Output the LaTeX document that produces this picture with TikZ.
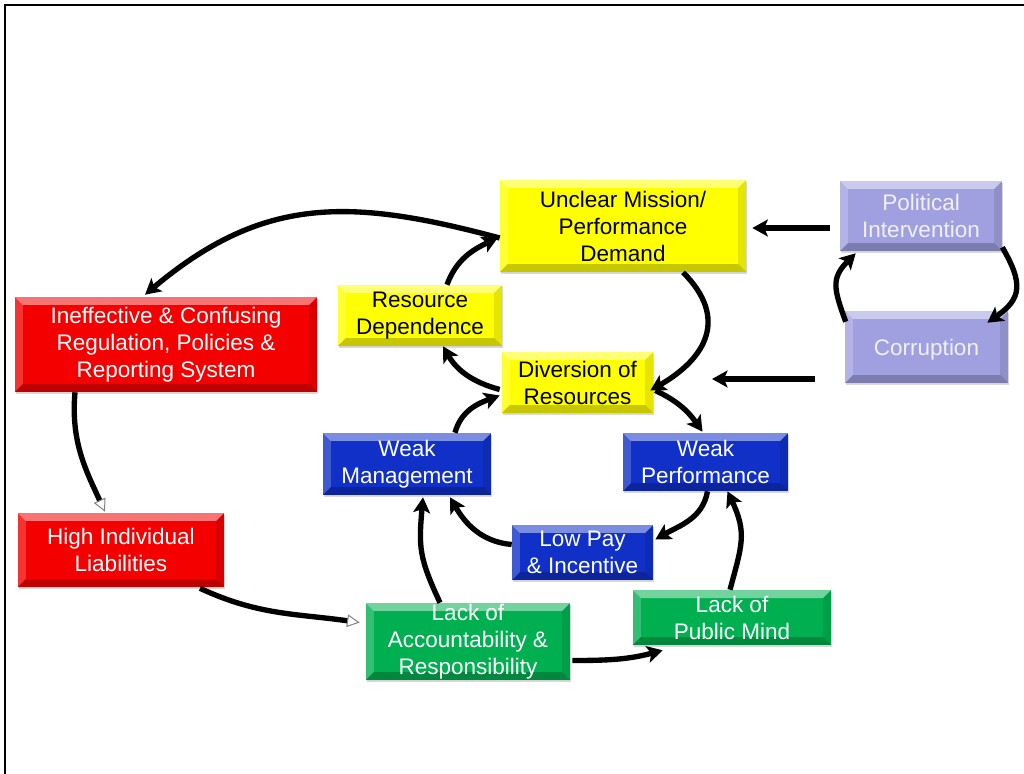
\documentclass[tikz,border=0pt]{standalone}
\usepackage{xcolor}
\usepackage{tikz}
\usepackage{fontspec}
\setmainfont{Liberation Sans}
\usetikzlibrary{arrows.meta,calc,shadows}
\definecolor{Y0}{HTML}{FFFF00}
\definecolor{R0}{HTML}{F40000}
\definecolor{B0}{HTML}{1030C8}
\definecolor{G0}{HTML}{00B050}
\definecolor{V0}{HTML}{A0A0E0}
\definecolor{V1}{HTML}{F0F0FA}
\tikzset{%
  bevel/.style={path picture={%
    \fill[white,opacity=0.45] (path picture bounding box.north west) -- (path picture bounding box.north east) -- ([shift={(-0.2cm,-0.2cm)}]path picture bounding box.north east) -- ([shift={(0.2cm,-0.2cm)}]path picture bounding box.north west) -- cycle;%
    \fill[white,opacity=0.2] (path picture bounding box.north west) -- (path picture bounding box.south west) -- ([shift={(0.2cm,0.2cm)}]path picture bounding box.south west) -- ([shift={(0.2cm,-0.2cm)}]path picture bounding box.north west) -- cycle;%
    \fill[black,opacity=0.1] (path picture bounding box.north east) -- (path picture bounding box.south east) -- ([shift={(-0.2cm,0.2cm)}]path picture bounding box.south east) -- ([shift={(-0.2cm,-0.2cm)}]path picture bounding box.north east) -- cycle;%
    \fill[black,opacity=0.22] (path picture bounding box.south west) -- (path picture bounding box.south east) -- ([shift={(-0.2cm,0.2cm)}]path picture bounding box.south east) -- ([shift={(0.2cm,0.2cm)}]path picture bounding box.south west) -- cycle;%
  }},%
  box/.style={fill=#1, bevel, drop shadow={opacity=0.3,shadow xshift=0.5pt,shadow yshift=-1.5pt}, inner sep=0pt, align=center, font=\fontsize{16}{19.2}\selectfont},%
  flow/.style={line width=3.8pt, -{Stealth[length=11pt,width=12pt,inset=2.5pt]}},%
  openflow/.style={line width=3.8pt, -{Triangle[open,length=9pt,width=9pt,line width=0.7pt,color=gray]}},%
}
\begin{document}
\begin{tikzpicture}[x=0.025cm,y=-0.025cm]%
\useasboundingbox (0,0) rectangle (1024,774);%
\draw[line width=1.8pt] (5,774) -- (5,5) -- (1024,5);%
\node[box=Y0, minimum width=6.15cm, minimum height=2.3cm] (unclear) at (623,226) {Unclear Mission/\\Performance\\Demand};%
\node[box=V0, text=V1, minimum width=4.05cm, minimum height=1.75cm] (political) at (921,216) {Political\\Intervention};%
\node[box=V0, text=V1, minimum width=4.075cm, minimum height=1.8cm, text depth=-0.2cm] (corruption) at (926.5,347) {Corruption};%
\node[box=Y0, minimum width=4.1cm, minimum height=1.525cm] (resdep) at (420,315.5) {Resource\\Dependence};%
\node[box=Y0, minimum width=3.775cm, minimum height=1.525cm] (diversion) at (577.5,382.5) {Diversion of\\Resources};%
\node[box=R0, text=white, minimum width=7.55cm, minimum height=2.375cm] (ineff) at (166,344.5) {Ineffective \& Confusing\\Regulation, Policies \&\\Reporting System};%
\node[box=R0, text=white, minimum width=5.15cm, minimum height=1.85cm] (liab) at (121,550) {High Individual\\Liabilities};%
\node[box=B0, text=white, minimum width=4.2cm, minimum height=1.55cm] (weakmgmt) at (407,464) {Weak\\Management};%
\node[box=B0, text=white, minimum width=4.125cm, minimum height=1.45cm] (weakperf) at (705.5,462) {Weak\\Performance};%
\node[box=B0, text=white, minimum width=3.525cm, minimum height=1.375cm] (lowpay) at (582.5,552.5) {Low Pay\\\& Incentive};%
\node[box=G0, text=white, minimum width=5.1cm, minimum height=1.925cm] (account) at (468,641.5) {Lack of\\Accountability \&\\Responsibility};%
\node[box=G0, text=white, minimum width=4.95cm, minimum height=1.375cm] (publicmind) at (732,617.5) {Lack of\\Public Mind};%
\coordinate (extfrom) at (815,379);%
\coordinate (extto) at (712,379);%
\draw[flow] ($(unclear.west)+(0,12)$) to[out=165,in=40,looseness=1.1] ($(ineff.north)+(-21,-2)$);%
\draw[openflow] ($(ineff.south)+(-91,0)$) to[out=-95,in=115] ($(liab.north)+(-16,-1)$);%
\draw[openflow] ($(liab.south)+(79,1)$) to[out=-25,in=172] ($(account.west)+(-6,-19)$);%
\draw[flow] ($(account.east)+(2,19)$) to[out=0,in=195] ($(publicmind.south west)+(30,5)$);%
\draw[flow] ($(account.north)+(-28,0)$) to[out=115,in=-95,looseness=1.2] ($(weakmgmt.south)+(16,2)$);%
\draw[flow] ($(publicmind.north)+(-2,0)$) to[out=75,in=-65,looseness=1.2] ($(weakperf.south)+(22,0)$);%
\draw[flow] ($(weakperf.south)+(2,0)$) to[out=-100,in=30] ($(lowpay.east)+(2,-13)$);%
\draw[flow] ($(lowpay.west)+(0,-8)$) to[out=175,in=-60] ($(weakmgmt.south)+(43,2)$);%
\draw[flow] ($(weakmgmt.north)+(48,0)$) to[out=75,in=200] ($(diversion.west)+(-2,13)$);%
\draw[flow] ($(diversion.west)+(-2,7)$) to[out=165,in=-60] ($(resdep.south)+(23,0)$);%
\draw[flow] ($(resdep.north)+(27,0)$) to[out=70,in=205] ($(unclear.west)+(-2,12)$);%
\draw[flow] ($(unclear.south)+(60,0)$) to[out=-45,in=30,looseness=1.35] ($(diversion.east)+(-3,8)$);%
\draw[flow] ($(diversion.east)+(2,8)$) to[out=-25,in=125] ($(weakperf.north)+(-3,-1)$);%
\draw[flow] ($(political.west)+(-10,12)$) -- ($(unclear.east)+(6,2)$);%
\draw[flow] (extfrom) -- (extto);%
\draw[flow] ($(political.south east)+(0,-4)$) to[out=-60,in=35,looseness=1.4] ($(corruption.north east)+(-21,12)$);%
\draw[flow] ($(corruption.north west)+(1,11)$) to[out=110,in=-135,looseness=1.3] ($(political.south west)+(16,2)$);%
\end{tikzpicture}
\end{document}
